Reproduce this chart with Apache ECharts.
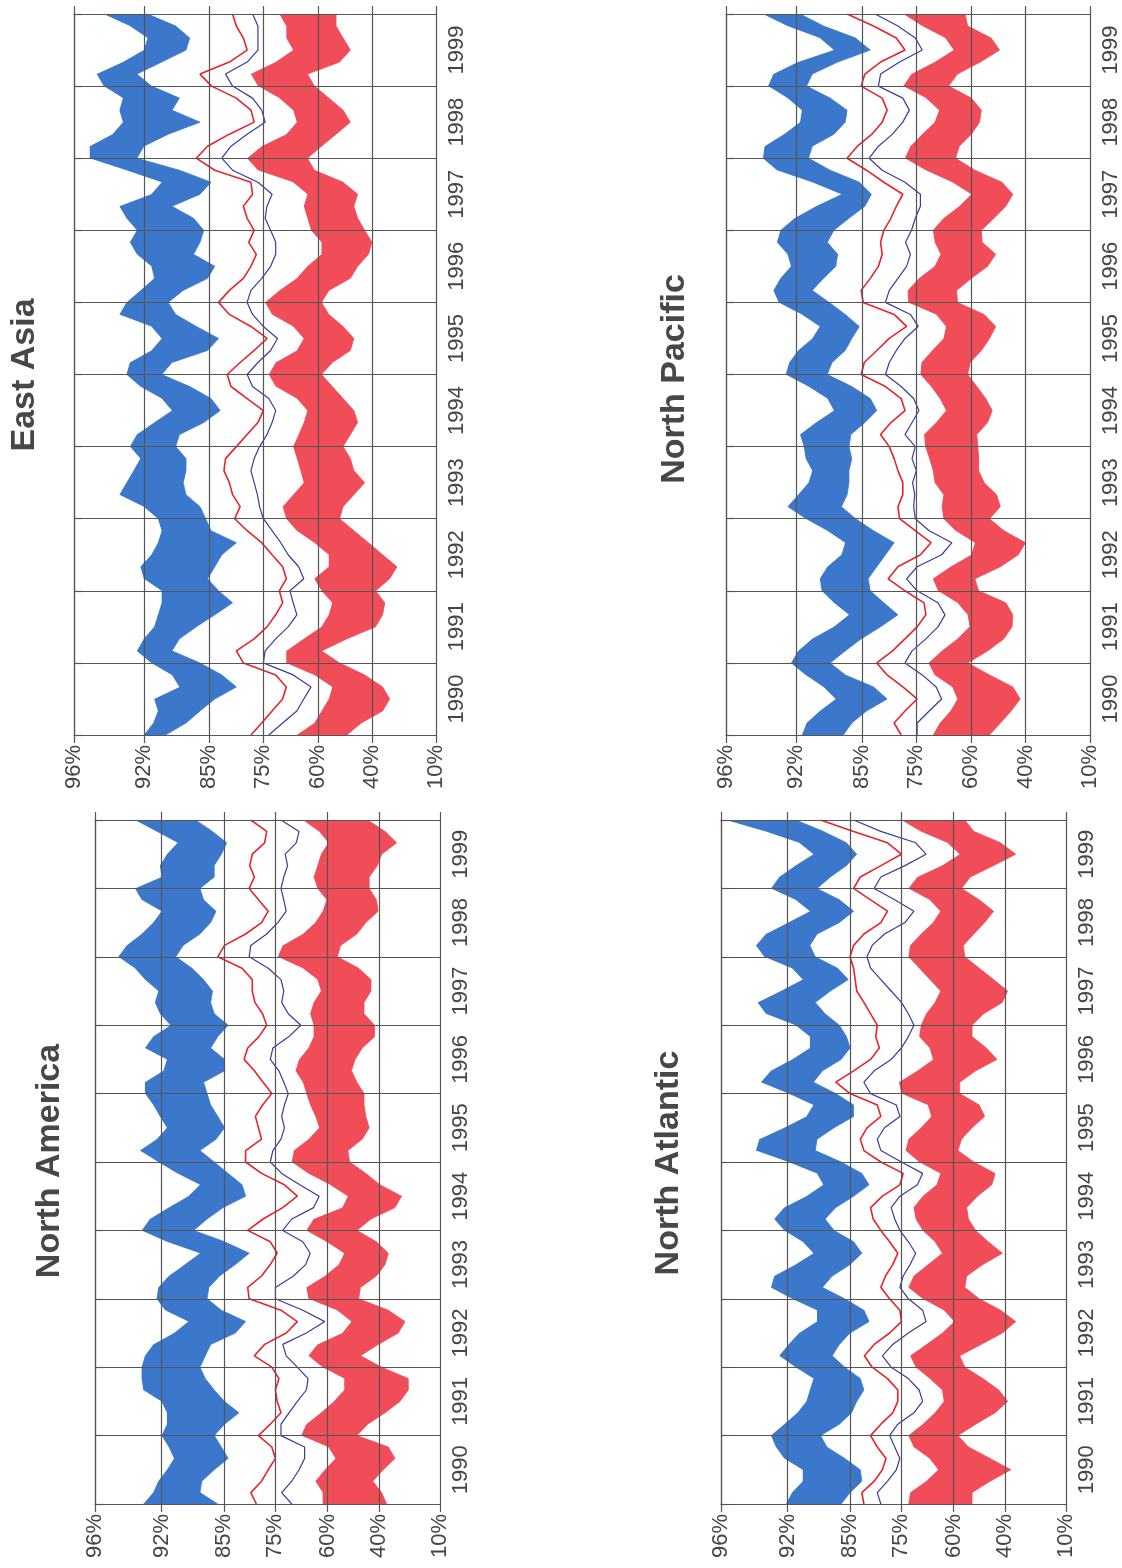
<!DOCTYPE html>
<html>
<head>
<meta charset="utf-8">
<script src="https://cdn.jsdelivr.net/npm/echarts@6/dist/echarts.min.js"></script>
<style>
  html, body { margin: 0; padding: 0; background: #ffffff; }
  #chart { width: 1122px; height: 1568px; }
</style>
</head>
<body>
<div id="chart"></div>
<script>
// Percentile axis: tick values and where each tick sits along the axis (0..100)
const PCT_TICKS = [96, 92, 85, 75, 60, 40, 10];
const PCT_TICK_POS = [0, 19.3, 37.4, 52.3, 67.4, 82.3, 100];

// Time axis: bi-monthly samples from Jan 1990 to Jan 2000
const YEARS = [1990, 1991, 1992, 1993, 1994, 1995, 1996, 1997, 1998, 1999];
const MONTHS = ['01', '03', '05', '07', '09', '11'];
const DATES = YEARS.flatMap(y => MONTHS.map(m => y + '-' + m)).concat(['2000-01']);

// ---- East Asia (values in percent) ----
const EA_BLUE_HI = [92.0, 91.0, 90.5, 90.9, 88.2, 89.0, 91.2, 92.4, 92.0, 90.9,
  90.5, 90.1, 90.1, 92.0, 92.2, 91.2, 90.5, 90.1, 90.5, 92.0,
  93.4, 93.0, 92.6, 92.2, 92.8, 92.4, 90.9, 89.0, 90.1, 92.2,
  93.0, 92.8, 91.2, 90.1, 91.2, 93.4, 93.0, 92.2, 90.9, 91.2,
  92.4, 92.8, 92.4, 93.0, 93.4, 91.2, 90.1, 93.0, 95.1, 95.1,
  93.8, 93.2, 93.4, 93.2, 94.3, 94.7, 93.2, 92.0, 91.6, 92.8, 94.3];
const EA_BLUE_LO = [89.7, 87.5, 86.0, 84.0, 80.0, 82.7, 86.0, 89.0, 88.2, 86.4,
  84.0, 80.7, 83.3, 85.2, 84.0, 82.7, 80.0, 84.7, 85.4, 86.0,
  87.5, 87.8, 87.5, 87.5, 88.6, 88.2, 85.6, 83.0, 84.7, 87.1,
  90.1, 89.0, 85.2, 83.3, 86.4, 88.6, 89.4, 87.8, 85.2, 84.0,
  86.7, 86.0, 85.6, 86.7, 89.0, 86.0, 84.7, 88.2, 92.4, 92.0,
  89.4, 86.0, 89.0, 88.2, 91.2, 92.4, 90.1, 87.5, 87.1, 88.6, 91.6];
const EA_RED_LINE = [77.3, 75.3, 72.6, 69.7, 68.7, 71.6, 78.7, 80.0, 76.7, 74.0,
  71.6, 69.7, 70.6, 68.7, 69.7, 72.6, 75.3, 78.0, 80.3, 79.3,
  80.7, 81.3, 82.3, 82.0, 80.0, 78.0, 76.0, 75.0, 78.0, 81.0,
  81.7, 79.3, 76.7, 74.0, 77.3, 81.3, 83.3, 81.3, 78.7, 77.3,
  76.3, 77.7, 76.7, 78.0, 78.7, 77.0, 77.3, 84.0, 86.4, 85.2,
  81.3, 76.7, 77.3, 80.0, 84.6, 86.0, 81.3, 78.0, 78.7, 80.0, 80.7];
const EA_NAVY_LINE = [73.5, 69.7, 65.8, 63.9, 61.9, 66.8, 75.0, 74.5, 71.6, 68.2,
  65.8, 66.8, 67.7, 63.9, 65.3, 68.2, 70.2, 72.6, 75.0, 75.7,
  76.1, 76.7, 77.3, 76.7, 75.7, 74.0, 72.6, 71.6, 73.5, 77.0,
  78.0, 76.0, 73.0, 71.1, 75.0, 77.0, 78.0, 77.3, 75.3, 73.0,
  71.6, 71.6, 73.0, 74.5, 74.0, 72.6, 76.0, 80.7, 82.7, 81.0,
  78.0, 74.5, 75.3, 77.0, 80.7, 82.0, 78.0, 76.0, 76.0, 76.0, 77.0];
const EA_RED_HI = [65.8, 61.0, 58.7, 56.0, 54.7, 61.0, 68.7, 68.7, 63.9, 58.7,
  56.0, 54.7, 58.7, 61.0, 56.0, 56.0, 61.0, 65.8, 68.7, 69.7,
  66.8, 63.9, 64.8, 65.8, 66.8, 65.3, 63.9, 62.9, 65.8, 71.6,
  73.5, 71.6, 65.8, 63.9, 66.8, 72.6, 74.5, 70.6, 65.8, 62.9,
  58.7, 58.7, 61.9, 62.9, 63.9, 62.9, 66.8, 76.0, 78.0, 75.3,
  68.7, 65.8, 66.8, 70.6, 76.0, 77.3, 71.6, 66.8, 68.7, 68.7, 70.6];
const EA_RED_LO = [49.3, 44.0, 35.0, 31.7, 35.0, 42.7, 52.0, 58.7, 49.3, 38.3,
  35.0, 34.0, 38.3, 31.7, 28.3, 35.0, 41.3, 46.7, 52.0, 50.7,
  46.7, 42.7, 46.7, 48.0, 50.7, 48.0, 45.3, 46.7, 50.7, 54.7,
  58.7, 54.7, 48.0, 46.7, 50.7, 56.0, 58.7, 56.0, 48.0, 45.3,
  41.3, 40.0, 42.7, 45.3, 46.7, 45.3, 50.7, 61.0, 62.9, 58.7,
  53.3, 48.0, 50.7, 56.0, 61.0, 62.9, 52.0, 48.0, 50.7, 53.3, 53.3];

// ---- North Pacific ----
const NP_BLUE_HI = [91.4, 90.9, 89.5, 87.8, 89.1, 91.0, 92.3, 91.8, 90.3, 88.0,
  86.4, 88.0, 89.3, 89.5, 88.7, 87.2, 86.8, 88.7, 91.0, 92.5,
  91.8, 90.7, 90.3, 91.0, 91.2, 91.6, 89.9, 88.0, 88.7, 90.7,
  92.6, 92.4, 91.8, 90.3, 89.5, 91.4, 93.0, 93.3, 92.9, 92.3,
  92.5, 93.1, 92.9, 92.1, 89.9, 87.2, 90.3, 93.1, 93.9, 93.8,
  92.7, 91.6, 91.4, 92.5, 93.6, 93.3, 91.8, 88.0, 89.5, 92.5, 93.9];
const NP_BLUE_LO = [87.0, 86.1, 84.2, 80.4, 82.9, 86.8, 88.4, 86.8, 85.1, 81.6,
  78.4, 81.0, 83.5, 83.9, 82.3, 80.7, 79.1, 82.9, 85.7, 87.2,
  86.6, 86.4, 86.4, 86.1, 86.4, 86.2, 84.5, 82.3, 83.5, 86.1,
  88.7, 88.2, 86.8, 86.1, 85.3, 86.8, 88.5, 90.3, 89.1, 87.8,
  87.6, 88.7, 88.0, 86.4, 84.5, 83.3, 85.3, 88.4, 90.7, 90.3,
  88.0, 86.8, 86.6, 88.4, 90.9, 90.3, 87.6, 83.5, 85.7, 89.1, 91.6];
const NP_RED_LINE = [77.8, 79.1, 77.1, 74.8, 77.5, 80.4, 82.3, 79.4, 77.1, 74.8,
  72.4, 72.9, 77.1, 80.2, 78.4, 73.9, 71.0, 75.2, 78.1, 78.4,
  77.5, 77.5, 78.4, 79.1, 80.0, 81.6, 79.7, 77.1, 77.8, 80.7,
  85.1, 84.6, 82.3, 80.0, 76.8, 79.1, 84.8, 85.1, 83.5, 82.0,
  81.3, 81.6, 81.0, 79.7, 78.7, 77.5, 81.0, 84.2, 86.6, 85.5,
  83.2, 81.3, 80.4, 81.3, 85.1, 84.5, 81.6, 77.1, 78.7, 82.9, 86.6];
const NP_NAVY_LINE = [74.8, 74.8, 71.5, 68.1, 69.6, 73.4, 77.1, 75.8, 72.4, 69.1,
  67.2, 69.1, 74.8, 76.8, 74.8, 68.1, 65.3, 71.5, 75.2, 75.5,
  75.3, 75.7, 75.0, 75.8, 75.2, 77.1, 75.8, 74.3, 75.5, 77.8,
  80.7, 80.0, 78.7, 77.1, 74.5, 76.1, 80.7, 80.0, 78.4, 76.8,
  76.1, 77.0, 75.9, 75.2, 73.9, 73.9, 77.1, 81.3, 83.7, 82.0,
  79.4, 77.5, 76.3, 77.5, 82.0, 81.6, 78.1, 73.4, 75.2, 78.4, 82.6];
const NP_RED_HI = [70.5, 68.6, 65.7, 63.8, 65.2, 70.0, 71.7, 68.1, 63.8, 60.5,
  61.0, 63.8, 69.1, 70.5, 65.7, 60.0, 58.7, 64.3, 67.6, 68.1,
  67.6, 70.0, 70.5, 71.5, 72.6, 72.9, 69.6, 66.9, 68.6, 71.0,
  73.9, 73.6, 70.7, 67.6, 66.9, 69.6, 76.5, 76.6, 74.3, 70.0,
  68.4, 70.0, 70.5, 67.6, 63.3, 60.0, 65.2, 72.4, 77.1, 76.1,
  73.4, 70.0, 68.8, 72.4, 77.4, 75.9, 70.0, 64.8, 67.1, 73.4, 77.4];
const NP_RED_LO = [53.3, 49.3, 45.3, 42.0, 44.7, 53.3, 61.0, 54.0, 48.0, 45.0,
  44.7, 47.3, 57.3, 58.7, 49.3, 42.7, 40.0, 48.0, 53.3, 49.3,
  50.7, 55.3, 57.3, 57.3, 57.6, 58.0, 54.0, 52.3, 54.7, 58.0,
  61.0, 60.3, 56.3, 53.3, 51.0, 55.3, 63.8, 64.0, 60.0, 54.0,
  51.0, 56.0, 56.3, 51.7, 47.3, 44.7, 48.7, 58.7, 64.3, 63.3,
  60.0, 57.0, 56.3, 60.0, 66.2, 63.8, 56.7, 49.6, 52.7, 61.0, 61.7];

// ---- North America ----
const NAM_BLUE_HI = [93.1, 92.5, 92.2, 91.4, 90.6, 91.2, 92.0, 91.4, 91.4, 92.0,
  93.1, 93.2, 93.2, 93.0, 92.5, 90.6, 89.0, 91.6, 92.3, 92.2,
  91.2, 89.4, 87.7, 91.4, 93.2, 92.7, 91.2, 89.0, 87.7, 90.2,
  92.2, 93.3, 92.3, 91.4, 92.1, 92.5, 93.0, 93.0, 91.8, 91.4,
  93.0, 92.5, 91.0, 92.1, 92.4, 92.2, 93.0, 93.6, 94.6, 94.1,
  93.2, 92.5, 92.0, 93.2, 93.6, 92.0, 92.1, 91.4, 90.2, 92.3, 93.6];
const NAM_BLUE_LO = [85.7, 87.7, 87.5, 86.1, 84.2, 85.3, 86.1, 84.9, 82.1, 84.9,
  86.1, 87.1, 87.7, 87.1, 86.5, 82.8, 80.8, 85.3, 86.9, 86.7,
  85.5, 82.8, 80.1, 84.9, 88.4, 86.9, 85.1, 80.8, 81.5, 84.2,
  86.1, 87.7, 85.9, 84.9, 85.7, 86.5, 86.9, 87.3, 84.9, 84.9,
  86.5, 85.7, 84.2, 86.1, 86.5, 86.3, 87.3, 88.6, 90.4, 89.6,
  87.7, 86.5, 85.9, 87.3, 87.7, 86.1, 86.1, 85.3, 84.5, 86.3, 88.2];
const NAM_RED_LINE = [78.7, 79.8, 77.7, 76.4, 75.0, 75.7, 78.3, 76.0, 73.4, 74.5,
  75.0, 74.0, 75.7, 79.1, 77.1, 71.9, 68.7, 73.4, 80.1, 80.4,
  77.7, 76.0, 74.5, 76.0, 80.4, 77.4, 72.9, 68.7, 72.4, 77.7,
  80.8, 80.8, 77.7, 78.3, 78.9, 77.5, 75.7, 77.4, 79.1, 81.1,
  80.4, 78.2, 76.7, 77.5, 79.0, 79.5, 79.5, 81.5, 85.7, 84.9,
  80.8, 77.7, 76.4, 78.3, 80.1, 79.1, 80.0, 79.5, 77.1, 76.7, 79.8];
const NAM_NAVY_LINE = [70.3, 73.2, 70.3, 68.2, 66.6, 66.6, 73.4, 73.4, 71.1, 68.7,
  66.1, 65.6, 68.7, 71.9, 72.9, 66.1, 60.8, 67.1, 75.0, 75.0,
  69.8, 66.3, 65.0, 67.1, 72.9, 70.3, 64.0, 62.4, 68.0, 73.2,
  76.0, 75.5, 73.4, 72.4, 73.2, 72.4, 71.3, 72.6, 74.0, 76.0,
  75.5, 71.1, 67.7, 71.3, 73.2, 72.6, 73.4, 76.4, 80.1, 79.8,
  76.7, 74.3, 71.9, 72.6, 73.4, 72.6, 71.5, 72.2, 69.0, 68.2, 73.4];
const NAM_RED_HI = [61.4, 61.4, 63.5, 60.8, 56.9, 59.7, 67.6, 66.1, 61.9, 57.6,
  53.5, 53.5, 61.4, 65.5, 62.9, 54.2, 50.7, 56.3, 65.5, 66.1,
  60.8, 55.6, 53.5, 60.3, 66.1, 64.0, 54.2, 52.1, 59.0, 65.5,
  70.3, 69.7, 65.5, 62.4, 63.5, 65.0, 66.1, 67.1, 69.2, 68.2,
  65.5, 64.0, 64.0, 65.0, 64.0, 61.9, 62.9, 67.1, 74.3, 72.9,
  67.1, 63.5, 61.4, 60.3, 62.9, 64.0, 62.9, 61.9, 59.7, 62.4, 67.1];
const NAM_RED_LO = [36.2, 38.7, 42.4, 37.9, 32.1, 35.4, 48.6, 44.4, 37.0, 29.7,
  25.6, 25.6, 38.7, 47.2, 40.3, 30.5, 27.2, 35.4, 47.9, 47.2,
  41.0, 37.0, 35.4, 41.0, 48.6, 43.1, 32.1, 28.9, 39.5, 45.1,
  51.4, 52.1, 46.5, 43.8, 45.1, 45.8, 45.8, 48.6, 50.7, 49.3,
  46.5, 41.7, 41.7, 45.8, 45.8, 43.1, 43.1, 47.9, 56.2, 54.9,
  48.6, 45.1, 40.3, 41.0, 43.8, 43.8, 40.6, 38.7, 31.3, 37.0, 44.4];

// ---- North Atlantic ----
const NATL_BLUE_HI = [92.1, 91.5, 90.3, 90.3, 92.2, 92.7, 93.0, 92.2, 90.9, 89.9,
  89.5, 89.1, 91.1, 92.5, 91.9, 90.7, 88.7, 88.7, 91.5, 93.0,
  92.8, 91.1, 89.1, 90.3, 92.2, 92.8, 92.2, 89.9, 88.0, 88.7,
  91.9, 93.9, 93.7, 92.2, 89.9, 89.1, 91.9, 93.6, 93.0, 91.5,
  89.5, 89.5, 91.1, 93.3, 93.8, 92.4, 90.3, 91.5, 93.4, 93.9,
  93.3, 91.9, 89.5, 91.1, 93.0, 92.5, 91.1, 89.1, 90.7, 93.3, 95.7];
const NATL_BLUE_LO = [86.0, 85.0, 82.7, 83.0, 85.6, 87.6, 88.3, 86.2, 84.7, 83.7,
  82.3, 83.0, 85.6, 87.0, 86.2, 85.0, 81.3, 82.3, 85.6, 88.1,
  87.0, 85.0, 82.7, 84.3, 86.8, 87.8, 86.6, 84.3, 81.3, 82.7,
  86.0, 88.9, 88.7, 86.8, 84.3, 84.3, 86.6, 89.1, 88.1, 86.0,
  85.0, 85.4, 86.2, 87.8, 88.9, 87.2, 85.2, 86.4, 88.9, 89.5,
  88.7, 86.2, 84.3, 86.2, 88.7, 87.2, 85.4, 83.7, 85.4, 88.0, 91.1];
const NATL_RED_LINE = [82.3, 82.7, 80.3, 78.7, 78.0, 79.7, 81.0, 79.0, 76.7, 75.7,
  75.7, 77.7, 80.7, 82.2, 80.3, 77.3, 75.0, 75.3, 77.3, 79.0,
  78.1, 76.7, 75.7, 77.3, 79.0, 80.5, 81.0, 78.7, 75.3, 74.5,
  79.0, 82.3, 83.0, 81.7, 79.0, 79.7, 85.0, 86.6, 84.3, 81.0,
  79.3, 80.0, 79.7, 81.0, 82.3, 83.7, 84.0, 84.3, 85.0, 84.3,
  82.3, 79.0, 77.7, 81.0, 84.3, 83.0, 79.0, 75.0, 77.7, 84.3, 88.3];
const NATL_NAVY_LINE = [79.0, 79.7, 77.7, 76.0, 75.3, 76.3, 77.3, 75.7, 71.4, 68.9,
  69.9, 73.0, 77.0, 78.7, 76.7, 73.0, 67.9, 68.9, 73.0, 75.3,
  74.5, 72.5, 70.9, 73.0, 75.3, 76.3, 77.0, 75.3, 70.4, 68.9,
  75.0, 79.0, 79.7, 78.3, 75.3, 76.0, 81.0, 82.3, 80.3, 77.0,
  75.0, 73.0, 71.4, 73.0, 75.0, 77.0, 79.0, 81.0, 81.7, 80.7,
  78.3, 74.0, 71.4, 76.3, 80.3, 79.0, 74.0, 67.9, 70.9, 79.0, 84.3];
const NATL_RED_HI = [73.0, 72.5, 67.9, 64.4, 66.9, 71.5, 73.0, 68.9, 65.4, 62.8,
  63.3, 66.9, 70.9, 72.5, 67.9, 63.3, 59.7, 62.8, 68.9, 73.0,
  71.5, 67.4, 63.3, 65.4, 68.9, 70.9, 71.5, 68.9, 64.9, 63.8,
  69.9, 73.8, 73.0, 69.4, 66.4, 67.4, 75.0, 75.5, 70.4, 65.9,
  66.9, 69.9, 69.4, 67.9, 65.4, 63.8, 66.9, 69.9, 73.0, 72.5,
  69.4, 65.9, 63.8, 66.9, 73.0, 70.4, 63.3, 57.6, 61.8, 69.4, 75.0];
const NATL_RED_LO = [52.8, 52.8, 45.8, 37.1, 45.8, 54.2, 58.3, 51.4, 43.8, 38.7,
  42.4, 48.6, 55.6, 57.6, 49.3, 41.0, 34.7, 41.7, 50.0, 55.6,
  54.9, 48.6, 41.0, 46.5, 51.4, 54.2, 54.9, 50.7, 45.1, 43.8,
  52.1, 58.3, 56.9, 52.8, 47.9, 50.0, 57.6, 57.6, 51.4, 43.1,
  47.2, 52.8, 52.8, 48.3, 41.0, 38.7, 44.4, 50.0, 55.6, 56.2,
  52.1, 47.9, 44.4, 50.0, 56.9, 53.5, 44.4, 34.7, 41.7, 52.1, 55.6];

// Colours
const BLUE = '#3b78cc';
const RED_BAND = '#f04d58';
const RED_LINE = '#e8232d';
const NAVY = '#3a3a9c';
const GRID_COLOR = '#555555';
const TEXT_COLOR = '#454545';
const FONT = '"Liberation Sans", Arial, Helvetica, sans-serif';

// Piecewise-linear percentile scale: percent -> axis position
function pctToPos(p) {
  let k = 0;
  while (k < PCT_TICKS.length - 2 && p < PCT_TICKS[k + 1]) k++;
  const a = PCT_TICKS[k], b = PCT_TICKS[k + 1];
  return PCT_TICK_POS[k] + (a - p) / (a - b) * (PCT_TICK_POS[k + 1] - PCT_TICK_POS[k]);
}
function posLabel(v) {
  for (let k = 0; k < PCT_TICK_POS.length; k++) {
    if (Math.abs(PCT_TICK_POS[k] - v) < 1e-6) return PCT_TICKS[k] + '%';
  }
  return '';
}

const PANELS = [
  { name: 'East Asia', rect: { left: 74, top: 14, width: 362, height: 721 }, title: [25, 375],
    blueHi: EA_BLUE_HI, blueLo: EA_BLUE_LO, redLine: EA_RED_LINE, navyLine: EA_NAVY_LINE, redHi: EA_RED_HI, redLo: EA_RED_LO },
  { name: 'North Pacific', rect: { left: 726, top: 14, width: 364, height: 721 }, title: [675, 379],
    blueHi: NP_BLUE_HI, blueLo: NP_BLUE_LO, redLine: NP_RED_LINE, navyLine: NP_NAVY_LINE, redHi: NP_RED_HI, redLo: NP_RED_LO },
  { name: 'North America', rect: { left: 95, top: 820, width: 345, height: 684 }, title: [50, 1161],
    blueHi: NAM_BLUE_HI, blueLo: NAM_BLUE_LO, redLine: NAM_RED_LINE, navyLine: NAM_NAVY_LINE, redHi: NAM_RED_HI, redLo: NAM_RED_LO },
  { name: 'North Atlantic', rect: { left: 721, top: 820, width: 345, height: 684 }, title: [669, 1163],
    blueHi: NATL_BLUE_HI, blueLo: NATL_BLUE_LO, redLine: NATL_RED_LINE, navyLine: NATL_NAVY_LINE, redHi: NATL_RED_HI, redLo: NATL_RED_LO }
];

const grids = [], xAxes = [], yAxes = [], series = [], graphics = [];

PANELS.forEach((p, g) => {
  grids.push(Object.assign({ outerBoundsMode: 'none', containLabel: false }, p.rect));

  // bottom percentile axis with grid lines and labels
  xAxes.push({
    gridIndex: g, type: 'value', min: 0, max: 100, position: 'bottom', z: 4,
    axisLine: { show: true, lineStyle: { color: GRID_COLOR, width: 1.2 } },
    axisTick: { show: true, customValues: PCT_TICK_POS, length: 8, lineStyle: { color: GRID_COLOR, width: 1.2 } },
    axisLabel: { show: true, customValues: PCT_TICK_POS, rotate: 90, margin: 10,
      fontSize: 22, color: TEXT_COLOR, fontFamily: FONT, formatter: posLabel },
    splitLine: { show: true, lineStyle: { color: GRID_COLOR, width: 1.2 } }
  });
  // top percentile axis: frame and outward ticks only
  xAxes.push({
    gridIndex: g, type: 'value', min: 0, max: 100, position: 'top', z: 4,
    axisLine: { show: true, lineStyle: { color: GRID_COLOR, width: 1.2 } },
    axisTick: { show: true, customValues: PCT_TICK_POS, length: 8, lineStyle: { color: GRID_COLOR, width: 1.2 } },
    axisLabel: { show: false },
    splitLine: { show: false }
  });
  // time axis on the right: year boundaries as grid lines, year names mid-year
  yAxes.push({
    gridIndex: g, type: 'category', data: DATES, boundaryGap: false, position: 'right', z: 4,
    axisLine: { show: true, lineStyle: { color: GRID_COLOR, width: 1.2 } },
    axisTick: { show: true, length: 8, interval: (i) => i % 6 === 0, lineStyle: { color: GRID_COLOR, width: 1.2 } },
    axisLabel: { show: true, interval: (i) => i % 6 === 3, rotate: 90, margin: 10,
      fontSize: 22, color: TEXT_COLOR, fontFamily: FONT, formatter: (v) => v.slice(0, 4) },
    splitLine: { show: true, interval: (i) => i % 6 === 0, lineStyle: { color: GRID_COLOR, width: 1.2 } }
  });

  const xi = g * 2, yi = g;
  const base = (arr) => arr.map((v, i) => [pctToPos(v), i]);
  const width = (hi, lo) => hi.map((v, i) => [pctToPos(lo[i]) - pctToPos(v), i]);
  const common = { type: 'line', xAxisIndex: xi, yAxisIndex: yi, showSymbol: false, symbol: 'none',
    silent: true, animation: false, z: 2 };

  series.push(Object.assign({}, common, { name: 'blueBase' + g, stack: 'blue' + g,
    data: base(p.blueHi), lineStyle: { width: 0, opacity: 0 } }));
  series.push(Object.assign({}, common, { name: 'blueBand' + g, stack: 'blue' + g,
    data: width(p.blueHi, p.blueLo), lineStyle: { width: 0.8, color: BLUE },
    areaStyle: { color: BLUE, opacity: 1 } }));
  series.push(Object.assign({}, common, { name: 'redBase' + g, stack: 'red' + g,
    data: base(p.redHi), lineStyle: { width: 0, opacity: 0 } }));
  series.push(Object.assign({}, common, { name: 'redBand' + g, stack: 'red' + g,
    data: width(p.redHi, p.redLo), lineStyle: { width: 0.8, color: RED_BAND },
    areaStyle: { color: RED_BAND, opacity: 1 } }));
  series.push(Object.assign({}, common, { name: 'redLine' + g,
    data: base(p.redLine), lineStyle: { width: 1.6, color: RED_LINE } }));
  series.push(Object.assign({}, common, { name: 'navyLine' + g,
    data: base(p.navyLine), lineStyle: { width: 1.2, color: NAVY } }));

  graphics.push({
    type: 'text', x: p.title[0], y: p.title[1], rotation: Math.PI / 2, z: 10,
    style: { text: p.name, font: 'bold 34px ' + FONT, fill: '#474747',
      align: 'center', verticalAlign: 'middle', textAlign: 'center', textVerticalAlign: 'middle' }
  });
});

const chart = echarts.init(document.getElementById('chart'), null, { renderer: 'canvas' });
chart.setOption({
  animation: false,
  backgroundColor: '#ffffff',
  grid: grids,
  xAxis: xAxes,
  yAxis: yAxes,
  series: series,
  graphic: graphics
});
</script>
</body>
</html>
